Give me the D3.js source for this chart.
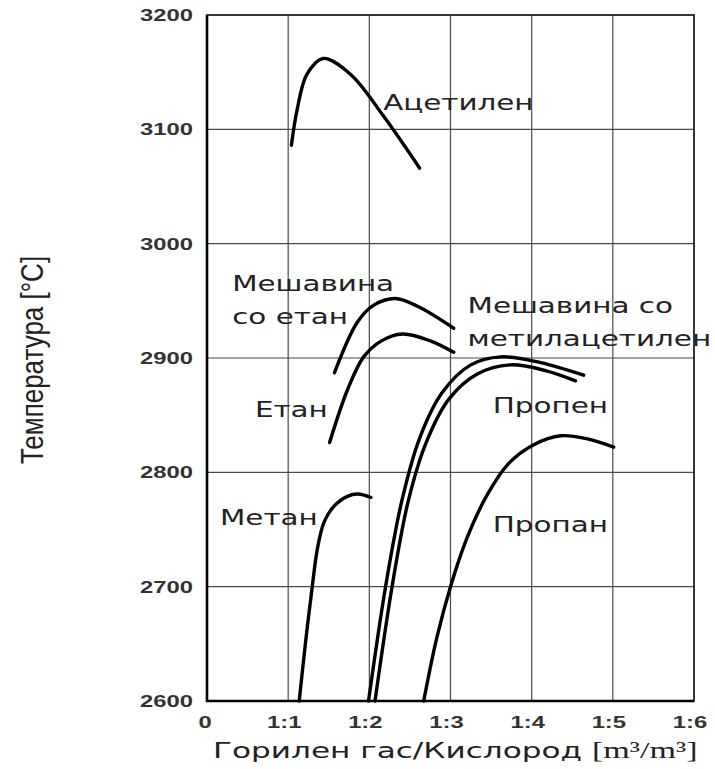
<!DOCTYPE html>
<html lang="mk">
<head>
<meta charset="UTF-8">
<title>Температура на пламенот</title>
<script src="https://d3js.org/d3.v7.min.js"></script>
<style>
  body { margin: 0; background: #fff; }
  svg { display: block; }
</style>
</head>
<body>
<svg width="715" height="769"></svg>
<script>
// ratio fuel gas : oxygen (x) vs flame temperature (y)
const xTicks = [0, 1, 2, 3, 4, 5, 6];
const xTickLabels = ["0", "1:1", "1:2", "1:3", "1:4", "1:5", "1:6"];
const yTicks = [2600, 2700, 2800, 2900, 3000, 3100, 3200];

const acetylene = [[1.04, 3086], [1.11, 3117], [1.23, 3148], [1.43, 3162], [1.77, 3148], [2.17, 3112], [2.62, 3066]];
const ethaneMix = [[1.57, 2887], [1.85, 2931], [2.05, 2946], [2.32, 2952], [2.6, 2945], [3.04, 2926]];
const ethane = [[1.51, 2826], [1.73, 2872], [1.93, 2901], [2.15, 2915], [2.41, 2921], [2.75, 2915], [3.04, 2905]];
const methane = [[1.136, 2600], [1.22, 2655], [1.30, 2702], [1.36, 2733], [1.44, 2756], [1.56, 2770], [1.73, 2779], [1.86, 2781], [2.02, 2778]];
const mapp = [[1.99, 2600], [2.20, 2700], [2.40, 2775], [2.62, 2830], [2.9, 2870], [3.25, 2894], [3.62, 2901], [4.11, 2896], [4.64, 2885]];
const propene = [[2.07, 2600], [2.28, 2700], [2.48, 2775], [2.70, 2826], [2.98, 2864], [3.33, 2886], [3.74, 2894], [4.17, 2889], [4.54, 2880]];
const propane = [[2.67, 2600], [2.83, 2655], [3.0, 2700], [3.2, 2742], [3.45, 2780], [3.72, 2808], [4.02, 2824], [4.36, 2832], [4.7, 2829], [5.01, 2822]];

const curves = [acetylene, ethaneMix, ethane, methane, mapp, propene, propane];

const labels = [
  { lines: ["Ацетилен"], x: 2.17, y: 3117 },
  { lines: ["Мешавина", "со етан"], x: 0.31, y: 2959 },
  { lines: ["Етан"], x: 0.59, y: 2848 },
  { lines: ["Мешавина со", "метилацетилен"], x: 3.21, y: 2939 },
  { lines: ["Пропен"], x: 3.52, y: 2852 },
  { lines: ["Пропан"], x: 3.52, y: 2748 },
  { lines: ["Метан"], x: 0.16, y: 2754 }
];

const svg = d3.select("svg");
const plotL = 207, plotR = 694, plotT = 15, plotB = 701;
const stretch = 1.4; // source picture is widened horizontally

const x = d3.scaleLinear().domain([0, 6]).range([plotL, plotR]);
const y = d3.scaleLinear().domain([2600, 3200]).range([plotB, plotT]);

// grid
svg.append("g").selectAll("line")
  .data(xTicks.slice(1, -1)).enter().append("line")
  .attr("x1", d => x(d)).attr("x2", d => x(d))
  .attr("y1", plotT).attr("y2", plotB)
  .attr("stroke", "#4a4a4a").attr("stroke-width", 1.2);
svg.append("g").selectAll("line")
  .data(yTicks.slice(1, -1)).enter().append("line")
  .attr("x1", plotL).attr("x2", plotR)
  .attr("y1", d => y(d)).attr("y2", d => y(d))
  .attr("stroke", "#4a4a4a").attr("stroke-width", 1.2);

// frame
svg.append("rect")
  .attr("x", plotL).attr("y", plotT)
  .attr("width", plotR - plotL).attr("height", plotB - plotT)
  .attr("fill", "none").attr("stroke", "#222").attr("stroke-width", 1.8);
svg.append("path")
  .attr("d", `M${plotL},${plotT}V${plotB}H${plotR}`)
  .attr("fill", "none").attr("stroke", "#000").attr("stroke-width", 2.6);

// tick labels
svg.append("g").selectAll("text")
  .data(yTicks).enter().append("text")
  .attr("transform", d => `translate(193,${y(d)}) scale(${stretch},1)`)
  .attr("text-anchor", "end").attr("dy", "0.36em")
  .attr("font-family", "Liberation Sans, Arial, sans-serif")
  .attr("font-weight", "bold").attr("font-size", 17).attr("fill", "#333")
  .text(d => d);
svg.append("g").selectAll("text")
  .data(xTicks).enter().append("text")
  .attr("transform", (d, i) => `translate(${x(d) - (i === 0 ? 2 : 4)},728) scale(${stretch},1)`)
  .attr("text-anchor", "middle")
  .attr("font-family", "Liberation Sans, Arial, sans-serif")
  .attr("font-weight", "bold").attr("font-size", 17).attr("fill", "#333")
  .text((d, i) => xTickLabels[i]);

// curves
const line = d3.line().x(d => x(d[0])).y(d => y(d[1])).curve(d3.curveCatmullRom.alpha(0.5));
svg.append("g").selectAll("path")
  .data(curves).enter().append("path")
  .attr("d", line)
  .attr("fill", "none").attr("stroke", "#000")
  .attr("stroke-width", 3.4).attr("stroke-linecap", "round");

// curve labels
labels.forEach(l => {
  const t = svg.append("text")
    .attr("transform", `translate(${x(l.x)},${y(l.y)}) scale(${stretch},1)`)
    .attr("font-family", "DejaVu Sans, Verdana, sans-serif")
    .attr("font-size", 21).attr("fill", "#222");
  l.lines.forEach((s, i) => t.append("tspan").attr("x", 0).attr("y", i * 33).text(s));
});

// axis titles
const xt = svg.append("text")
  .attr("font-family", "DejaVu Sans, Verdana, sans-serif")
  .attr("font-size", 21).attr("fill", "#222");
xt.append("tspan").text("Горилен гас/Кислород ");
xt.append("tspan").attr("font-family", "Liberation Serif, Times New Roman, serif").attr("font-size", 23).text("[m³/m³]");
const xw = xt.node().getComputedTextLength();
xt.attr("transform", `translate(213,758) scale(${485 / xw},1)`);

svg.append("text")
  .attr("transform", `translate(43,360) rotate(-90) scale(1,1.2)`)
  .attr("text-anchor", "middle")
  .attr("font-family", "Liberation Sans, Arial, sans-serif")
  .attr("font-size", 26).attr("fill", "#222")
  .text("Температура [°C]");
</script>
</body>
</html>
